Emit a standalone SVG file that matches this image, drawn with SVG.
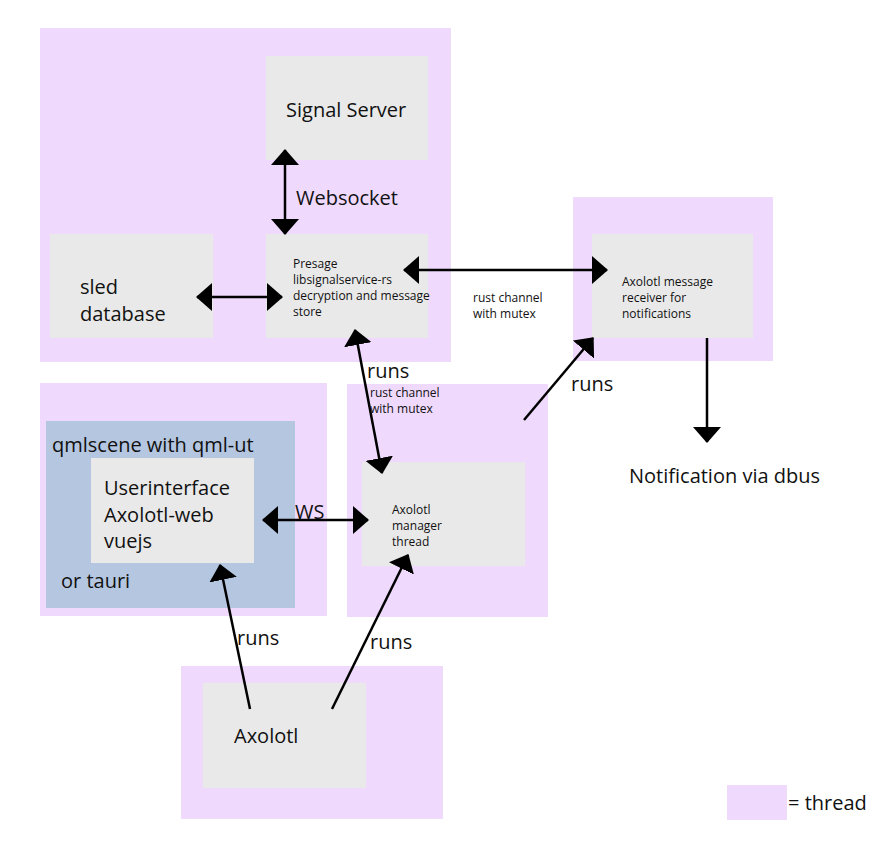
<svg xmlns="http://www.w3.org/2000/svg" width="884" height="842" viewBox="0 0 884 842">
<style>
.thread{fill:#efd9fd}
.box{fill:#e9e9e9}
.blue{fill:#b4c6e0}
text{font-family:"Open Sans","Noto Sans","DejaVu Sans",sans-serif;fill:#111}
.l{font-size:20px}
.s{font-size:12px}
.c{stroke:#000;stroke-width:2.5;fill:none;marker-end:url(#ah)}
.d{marker-start:url(#ah)}
</style>
<defs>
<marker id="ah" markerUnits="userSpaceOnUse" markerWidth="16" markerHeight="28" viewBox="0 0 16 28" refX="15" refY="14" orient="auto-start-reverse">
<path d="M0,0 L16,14 L0,28 z" fill="#000"/>
</marker>
</defs>
<rect width="884" height="842" fill="#fff"/>
<g id="thread-main">
<rect class="thread" x="40" y="28" width="411" height="334"/>
</g>
<g id="thread-receiver">
<rect class="thread" x="573" y="197" width="200" height="164"/>
</g>
<g id="thread-ui">
<rect class="thread" x="40" y="383" width="287" height="233"/>
</g>
<g id="thread-manager">
<rect class="thread" x="347" y="384" width="201" height="233"/>
</g>
<g id="thread-axolotl">
<rect class="thread" x="181" y="666" width="262" height="153"/>
</g>
<g id="signal-server">
<rect class="box" x="266" y="56" width="162" height="104"/>
<text class="l" x="286" y="117">Signal Server</text>
</g>
<g id="presage">
<rect class="box" x="266" y="234" width="162" height="104"/>
<text class="s" x="293" y="268">Presage</text>
<text class="s" x="293" y="284">libsignalservice-rs</text>
<text class="s" x="293" y="300">decryption and message</text>
<text class="s" x="293" y="316">store</text>
</g>
<g id="sled">
<rect class="box" x="50" y="234" width="163" height="104"/>
<text class="l" x="80" y="294">sled</text>
<text class="l" x="80" y="321">database</text>
</g>
<g id="receiver">
<rect class="box" x="592" y="234" width="161" height="104"/>
<text class="s" x="622" y="286">Axolotl message</text>
<text class="s" x="622" y="302">receiver for</text>
<text class="s" x="622" y="318">notifications</text>
</g>
<g id="qmlscene">
<rect class="blue" x="46" y="421" width="249" height="187"/>
<text class="l" x="52" y="452">qmlscene with qml-ut</text>
<text class="l" x="61" y="588">or tauri</text>
</g>
<g id="userinterface">
<rect class="box" x="91" y="458" width="163" height="105"/>
<text class="l" x="104" y="495">Userinterface</text>
<text class="l" x="104" y="522">Axolotl-web</text>
<text class="l" x="104" y="548">vuejs</text>
</g>
<g id="manager">
<rect class="box" x="362" y="462" width="163" height="104"/>
<text class="s" x="392" y="514">Axolotl</text>
<text class="s" x="392" y="530">manager</text>
<text class="s" x="392" y="546">thread</text>
</g>
<g id="axolotl">
<rect class="box" x="203" y="683" width="163" height="105"/>
<text class="l" x="234" y="743">Axolotl</text>
</g>
<g id="notification">
<text class="l" x="629" y="483">Notification via dbus</text>
</g>
<g id="legend">
<rect class="thread" x="727" y="785" width="60" height="35"/>
<text class="l" x="788" y="810">= thread</text>
</g>
<g id="connectors">
<line class="c d" x1="285" y1="150" x2="285" y2="234"/>
<text class="l" x="296" y="205">Websocket</text>
<line class="c d" x1="197" y1="297" x2="282" y2="297"/>
<line class="c d" x1="404" y1="270" x2="607" y2="270"/>
<text class="s" x="473" y="302">rust channel</text>
<text class="s" x="473" y="318">with mutex</text>
<line class="c d" x1="355" y1="330" x2="382" y2="473"/>
<text class="l" x="367" y="378">runs</text>
<text class="s" x="370" y="397">rust channel</text>
<text class="s" x="370" y="413">with mutex</text>
<line class="c" x1="524" y1="420" x2="593" y2="338"/>
<text class="l" x="571" y="391">runs</text>
<line class="c" x1="707" y1="338" x2="707" y2="442"/>
<line class="c d" x1="263" y1="520" x2="368" y2="520"/>
<text class="l" x="295" y="519">WS</text>
<line class="c" x1="250" y1="709" x2="220" y2="565"/>
<text class="l" x="237" y="645">runs</text>
<line class="c" x1="332" y1="709" x2="408" y2="555"/>
<text class="l" x="370" y="649">runs</text>
</g>
</svg>
